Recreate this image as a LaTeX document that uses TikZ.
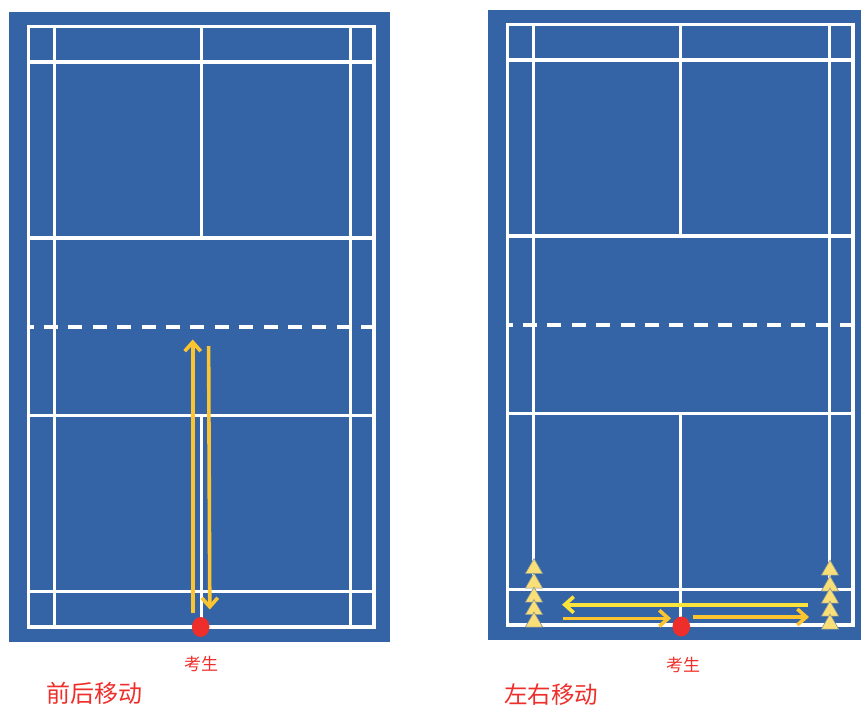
\documentclass[tikz,border=0pt]{standalone}
\usepackage{fontspec}
\newfontfamily\cjk{Noto Sans CJK SC}
\usetikzlibrary{arrows.meta,shapes.geometric}
\definecolor{courtblue}{HTML}{3463A6}
\definecolor{moveorange}{HTML}{FCC42F}
\definecolor{moveyellow}{HTML}{FBE43C}
\definecolor{conefill}{HTML}{FADF78}
\definecolor{labelred}{HTML}{EE2E2A}
\tikzset{
  courtline/.style={draw=white,line width=3.3pt},
  movearrow/.style={moveorange,line width=3.6pt,-{Straight Barb[length=9pt,width=16pt,line width=3.6pt]}},
  candidate/.style={ellipse,fill=labelred,minimum width=17.5pt,minimum height=20pt,inner sep=0pt},
  conemark/.style={regular polygon,regular polygon sides=3,fill=conefill,draw=courtblue!60!conefill,
    line width=.6pt,minimum size=20pt,inner sep=0pt},
  redlabel/.style={text=labelred,inner sep=0pt,font=\cjk},
}
\begin{document}
\begin{tikzpicture}[x=1pt,y=-1pt]
        \useasboundingbox (0,0) rectangle (861,707);%
        \clip (0,0) rectangle (861,707);%

        % both courts, second one shifted
        \foreach \dx/\dy in {0/0, 479/-2} {%
          \begin{scope}[shift={(\dx,\dy)}]
            \fill[courtblue] (9,12) rectangle (390,642);%
            \draw[courtline] (28.4,26.4) rectangle (374,627);%
            \foreach \xx in {54.4, 350.4} { \draw[courtline] (\xx,26) -- (\xx,627); }%
            \foreach \yy in {62, 238, 415.4, 591.4} { \draw[courtline] (28,\yy) -- (374,\yy); }%
            \draw[courtline] (201.2,26) -- (201.2,238) (201.2,415) -- (201.2,627);%
            \draw[courtline,dash pattern=on 14pt off 10.4pt,dash phase=8.4pt] (28,327) -- (374,327);%
          \end{scope}}%

        % cones on the right court
        \foreach \i/\yy in {1/568.6, 2/583.1, 3/597.1, 4/609.6, 5/622.1} {%
          \node[conemark] (coneL\i) at (534,\yy) {}; }%
        \foreach \i/\yy in {1/570.1, 2/586.1, 3/598.1, 4/611.1, 5/624.1} {%
          \node[conemark] (coneR\i) at (830,\yy) {}; }%

        \node[candidate] (dotL) at (200.7,627) {};%
        \node[candidate] (dotR) at (681.3,626.5) {};%

        \coordinate (upS) at (192.7,612.7); \coordinate (upE) at (192.7,339.5);%
        \coordinate (downS) at (208.6,346); \coordinate (downE) at (209.8,609.5);%
        \coordinate (backS) at (808,604.7); \coordinate (backE) at (562,604.7);%
        \coordinate (inS) at (563,618.3); \coordinate (inE) at (671,618.3);%
        \coordinate (outS) at (692.7,617); \coordinate (outE) at (809,617);%

        \draw[movearrow] (upS) -- (upE);%
        \draw[movearrow] (downS) -- (downE);%
        \draw[movearrow,moveyellow] (backS) -- (backE);%
        \draw[movearrow] (inS) -- (inE);%
        \draw[movearrow] (outS) -- (outE);%

        \node[redlabel,font=\cjk\fontsize{17}{17}\selectfont] (candL) at (201,664) {考生};%
        \node[redlabel,font=\cjk\fontsize{17}{17}\selectfont] (candR) at (683,665) {考生};%
        \node[redlabel,font=\cjk\fontsize{24}{24}\selectfont] (titleL) at (94,693.5) {前后移动};%
        \node[redlabel,font=\cjk\fontsize{23.5}{23.5}\selectfont] (titleR) at (551,694.5) {左右移动};%
\end{tikzpicture}
\end{document}
